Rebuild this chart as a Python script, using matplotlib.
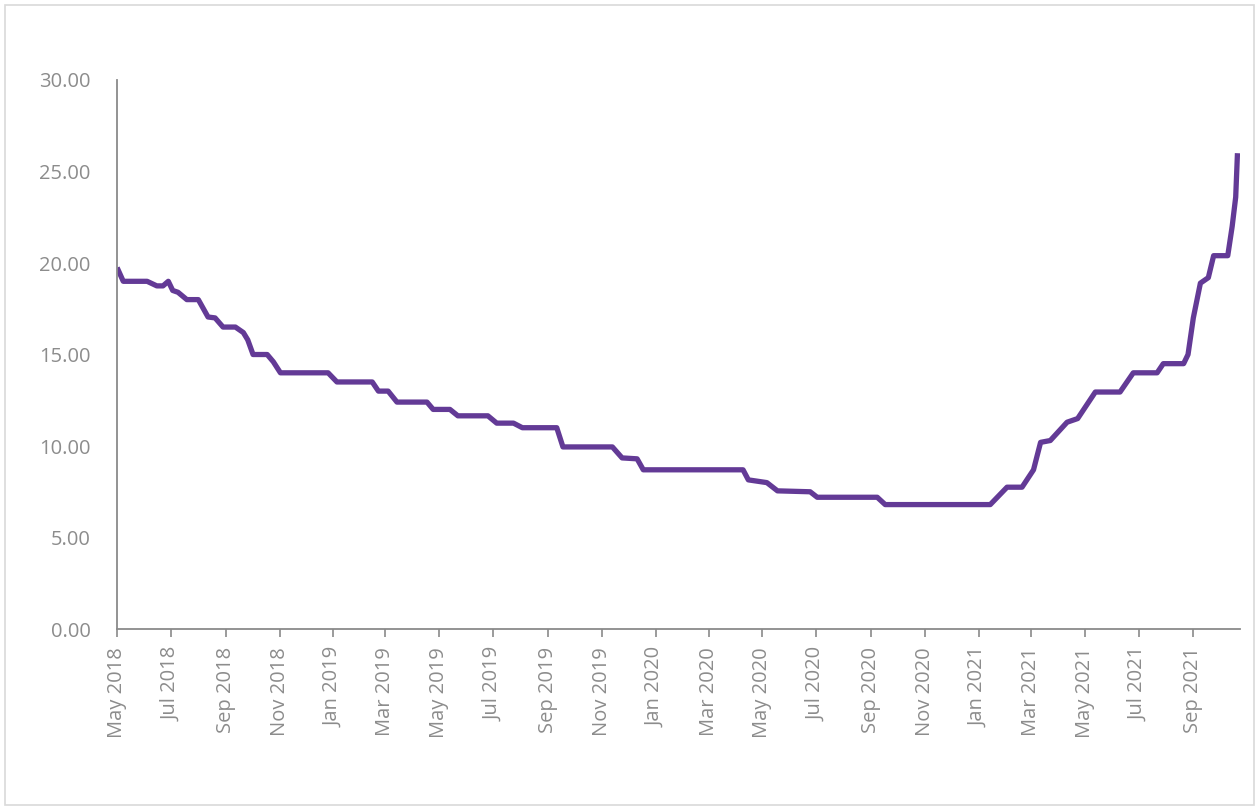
import pandas as pd
import matplotlib
matplotlib.use("Agg")
import matplotlib.pyplot as plt
import matplotlib.dates as mdates
from matplotlib.patches import Rectangle
from matplotlib.ticker import FormatStrFormatter

# ========================
# DATA
# ========================
DATES = [
    "2018-05-01", "2018-05-08", "2018-06-04", "2018-06-15", "2018-06-22", "2018-06-28",
    "2018-07-03", "2018-07-09", "2018-07-19", "2018-08-01", "2018-08-12", "2018-08-20",
    "2018-08-29", "2018-09-12", "2018-09-21", "2018-09-26", "2018-10-02", "2018-10-18",
    "2018-10-25", "2018-11-02", "2018-12-26", "2019-01-05", "2019-02-14", "2019-02-21",
    "2019-03-04", "2019-03-14", "2019-04-17", "2019-04-24", "2019-05-13", "2019-05-22",
    "2019-06-25", "2019-07-05", "2019-07-24", "2019-08-03", "2019-09-11", "2019-09-18",
    "2019-11-13", "2019-11-24", "2019-12-11", "2019-12-18", "2020-04-09", "2020-04-15",
    "2020-05-06", "2020-05-18", "2020-06-24", "2020-07-02", "2020-09-08", "2020-09-17",
    "2021-01-14", "2021-01-24", "2021-02-02", "2021-02-19", "2021-03-04", "2021-03-12",
    "2021-03-23", "2021-04-11", "2021-04-23", "2021-05-13", "2021-06-10", "2021-06-25",
    "2021-07-22", "2021-07-29", "2021-08-21", "2021-08-26", "2021-09-01", "2021-09-09",
    "2021-09-18", "2021-09-24", "2021-10-10", "2021-10-15", "2021-10-19", "2021-10-21",
]
VALUES = [
    19.75, 19.0, 19.0, 18.75, 18.75, 19.0,
    18.5, 18.4, 18.0, 18.0, 17.05, 17.0,
    16.5, 16.5, 16.2, 15.8, 15.0, 15.0,
    14.6, 14.0, 14.0, 13.5, 13.5, 13.0,
    13.0, 12.4, 12.4, 12.0, 12.0, 11.65,
    11.65, 11.25, 11.25, 11.0, 11.0, 9.95,
    9.95, 9.35, 9.3, 8.7, 8.7, 8.15,
    8.0, 7.55, 7.5, 7.2, 7.2, 6.8,
    6.8, 7.3, 7.75, 7.75, 8.7, 10.2,
    10.3, 11.3, 11.5, 12.95, 12.95, 14.0,
    14.0, 14.5, 14.5, 15.0, 17.0, 18.9,
    19.2, 20.4, 20.4, 22.0, 23.6, 26.0,
]

X_START = "2018-05-01"
X_END = "2021-10-24"
Y_TICKS = [0, 5, 10, 15, 20, 25, 30]

LINE_COLOR = "#633a96"
TEXT_COLOR = "#8c8c8c"
AXIS_COLOR = "#8a8a8a"

plt.rcParams["font.family"] = ["Open Sans", "DejaVu Sans"]

# ========================
# PLOT
# ========================
df = pd.DataFrame({"date": pd.to_datetime(DATES), "value": VALUES})

fig = plt.figure(figsize=(12.59, 8.08), dpi=100)
fig.patches.append(Rectangle((0.004, 0.004), 0.992, 0.99, transform=fig.transFigure,
                             fill=False, edgecolor="#d9d9d9", linewidth=1.2))

ax = fig.add_axes([0.093, 0.2215, 0.892, 0.6795])
ax.plot(df["date"], df["value"], color=LINE_COLOR, linewidth=3.8,
        solid_joinstyle="round", solid_capstyle="butt")

ax.set_ylim(0, 30)
ax.set_yticks(Y_TICKS)
ax.yaxis.set_major_formatter(FormatStrFormatter("%.2f"))
ax.set_xlim(pd.Timestamp(X_START), pd.Timestamp(X_END))
ax.xaxis.set_major_locator(mdates.MonthLocator(bymonth=[1, 3, 5, 7, 9, 11]))
ax.xaxis.set_major_formatter(mdates.DateFormatter("%b %Y"))

for s in ["top", "right"]:
    ax.spines[s].set_visible(False)
for s in ["left", "bottom"]:
    ax.spines[s].set_color(AXIS_COLOR)
    ax.spines[s].set_linewidth(1.3)

ax.tick_params(axis="y", length=0, pad=19, labelsize=14.5, labelcolor=TEXT_COLOR)
ax.tick_params(axis="x", length=6, width=1.2, color=AXIS_COLOR, pad=7,
               labelsize=14.5, labelcolor=TEXT_COLOR, labelrotation=90)

fig.savefig("out.png", dpi=100)
